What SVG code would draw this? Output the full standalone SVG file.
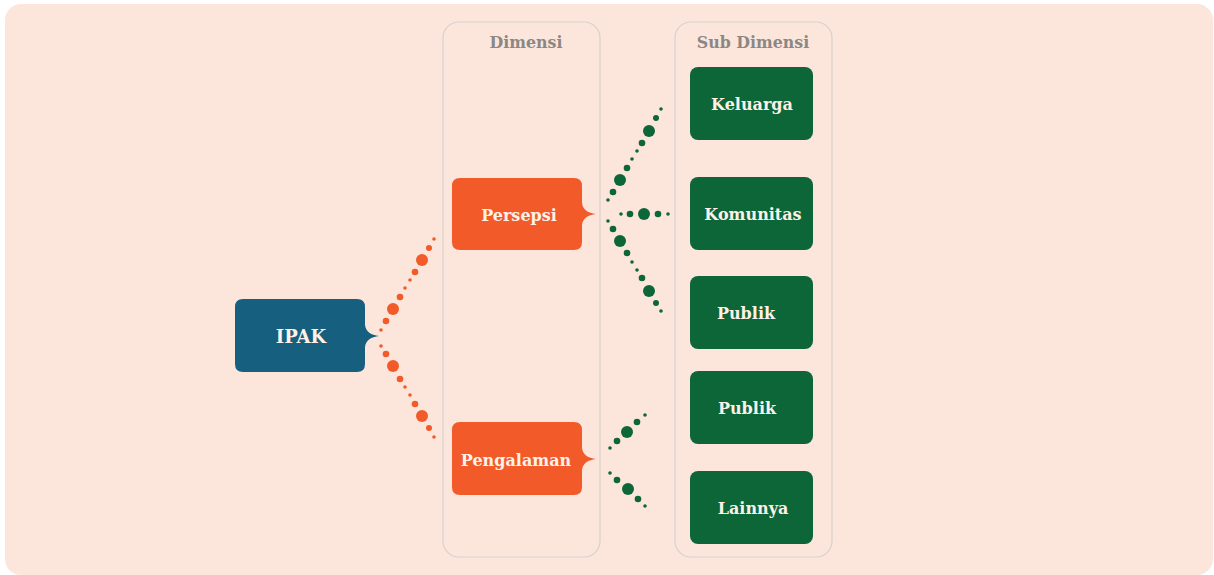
<svg xmlns="http://www.w3.org/2000/svg" width="1214" height="575" viewBox="0 0 1214 575">
<style>
.col{fill:none;stroke:#d8d0cc;stroke-width:1.2}
.title{font-family:"DejaVu Serif","Liberation Serif",serif;font-size:15.8px;font-weight:bold;fill:#8c8784;text-anchor:middle}
.lbl{font-family:"DejaVu Serif","Liberation Serif",serif;font-size:16px;font-weight:bold;fill:#fdf1e8;text-anchor:middle;dominant-baseline:central}
.ipak{fill:#175f7e}
.dim{fill:#f25a29}
.sub{fill:#0d6638}
.od{fill:#f25a29}
.gd{fill:#0d6638}
</style>
<rect x="5" y="4" width="1208" height="571" rx="16" fill="#fce6dc"/>
<rect class="col" x="443" y="22" width="157" height="535" rx="16"/>
<rect class="col" x="675" y="22" width="157" height="535" rx="16"/>
<text class="title" x="526" y="48">Dimensi</text>
<text class="title" x="753" y="48">Sub Dimensi</text>

<g id="connectors">
<g class="od">
<circle cx="434" cy="239" r="1.8"/><circle cx="429" cy="248" r="3"/><circle cx="422" cy="260" r="6"/><circle cx="415" cy="272" r="3.3"/><circle cx="410" cy="280" r="1.8"/><circle cx="405" cy="288" r="1.8"/><circle cx="400" cy="297" r="3.3"/><circle cx="393" cy="309" r="6"/><circle cx="386" cy="321" r="3.3"/><circle cx="381" cy="330" r="1.8"/>
<circle cx="381" cy="346" r="1.8"/><circle cx="386" cy="354" r="3.3"/><circle cx="393" cy="366" r="6"/><circle cx="400" cy="379" r="3.3"/><circle cx="405" cy="387" r="1.8"/><circle cx="410" cy="395" r="1.8"/><circle cx="415" cy="404" r="3.3"/><circle cx="422" cy="416" r="6"/><circle cx="429" cy="428" r="3"/><circle cx="434" cy="437" r="1.8"/>
</g>
<g class="gd">
<circle cx="661" cy="109" r="1.8"/><circle cx="656" cy="118" r="3"/><circle cx="649" cy="131" r="6"/><circle cx="642" cy="143" r="3.3"/><circle cx="637" cy="151" r="1.8"/><circle cx="632" cy="159" r="1.8"/><circle cx="627" cy="168" r="3.3"/><circle cx="620" cy="180" r="6"/><circle cx="613" cy="192" r="3.3"/><circle cx="608" cy="200" r="1.8"/>
<circle cx="621" cy="214" r="1.8"/><circle cx="630" cy="214" r="3.3"/><circle cx="644" cy="214" r="6"/><circle cx="658" cy="214" r="3.3"/><circle cx="668" cy="214" r="1.8"/>
<circle cx="608" cy="221" r="1.8"/><circle cx="613" cy="229" r="3.3"/><circle cx="620" cy="241" r="6"/><circle cx="627" cy="253" r="3.3"/><circle cx="632" cy="262" r="1.8"/><circle cx="637" cy="270" r="1.8"/><circle cx="642" cy="278" r="3.3"/><circle cx="649" cy="291" r="6"/><circle cx="656" cy="303" r="3"/><circle cx="661" cy="311" r="1.8"/>
<circle cx="645" cy="415" r="1.8"/><circle cx="637" cy="422" r="3.3"/><circle cx="627" cy="432" r="6"/><circle cx="617" cy="441" r="3.3"/><circle cx="610" cy="448" r="1.8"/>
<circle cx="610" cy="473" r="1.8"/><circle cx="617" cy="480" r="3.3"/><circle cx="628" cy="489" r="6"/><circle cx="638" cy="499" r="3.3"/><circle cx="645" cy="506" r="1.8"/>
</g>
</g>

<g id="ipak">
<path class="ipak" d="M243,299 H357 Q365,299 365,307 V325 C366,332 371,335 379,336 C371,337 366,340 365,347 V364 Q365,372 357,372 H243 Q235,372 235,364 V307 Q235,299 243,299 Z"/>
<text class="lbl" x="301" y="336" style="font-size:18px">IPAK</text>
</g>
<g id="persepsi">
<path class="dim" d="M460,178 H574 Q582,178 582,186 V203 C583,210 588,213 596,214 C588,215 583,218 582,225 V242 Q582,250 574,250 H460 Q452,250 452,242 V186 Q452,178 460,178 Z"/>
<text class="lbl" x="519" y="215">Persepsi</text>
</g>
<g id="pengalaman">
<path class="dim" d="M460,422 H574 Q582,422 582,430 V448 C583,455 588,458 596,459 C588,460 583,463 582,470 V487 Q582,495 574,495 H460 Q452,495 452,487 V430 Q452,422 460,422 Z"/>
<text class="lbl" x="516" y="460">Pengalaman</text>
</g>
<g id="keluarga"><rect class="sub" x="690" y="67" width="123" height="73" rx="8"/><text class="lbl" x="752" y="104">Keluarga</text></g>
<g id="komunitas"><rect class="sub" x="690" y="177" width="123" height="73" rx="8"/><text class="lbl" x="753" y="214">Komunitas</text></g>
<g id="publik1"><rect class="sub" x="690" y="276" width="123" height="73" rx="8"/><text class="lbl" x="746" y="313">Publik</text></g>
<g id="publik2"><rect class="sub" x="690" y="371" width="123" height="73" rx="8"/><text class="lbl" x="747" y="408">Publik</text></g>
<g id="lainnya"><rect class="sub" x="690" y="471" width="123" height="73" rx="8"/><text class="lbl" x="753" y="508">Lainnya</text></g>
</svg>
